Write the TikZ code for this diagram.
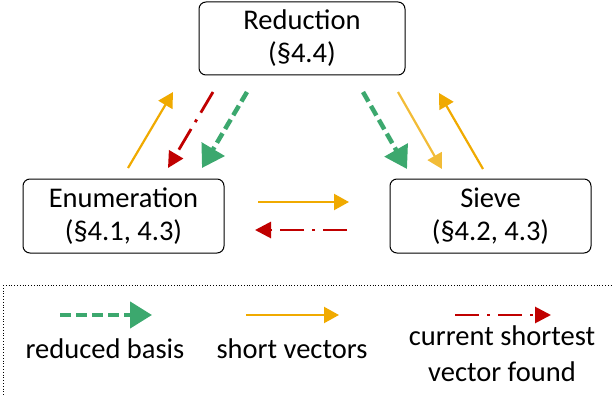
\documentclass[tikz,border=0pt]{standalone}
\usepackage{fontspec}
\setmainfont{Carlito}
\usetikzlibrary{arrows.meta}
\definecolor{myorange}{RGB}{240,170,0}
\definecolor{mylightorange}{RGB}{242,188,55}
\definecolor{mygreen}{RGB}{60,168,110}
\definecolor{myred}{RGB}{192,0,0}
\tikzset{
  box/.style={draw, line width=1pt, rounded corners=7pt, align=center, font=\fontsize{28.5}{33}\selectfont, inner sep=0pt},
  lbl/.style={align=center, font=\fontsize{28.5}{36}\selectfont},
  shortv/.style={myorange, line width=2.2pt, -{Triangle[length=15pt,width=16pt]}},
  basis/.style={mygreen, line width=4.5pt, dash pattern=on 11pt off 5pt, -{Triangle[length=22pt,width=26pt]}},
  curr/.style={myred, line width=2.8pt, dash pattern=on 24pt off 8pt on 3pt off 8pt, -{Triangle[length=16pt,width=16pt]}},
}
\begin{document}
\begin{tikzpicture}[x=1pt,y=-1pt]
\useasboundingbox (0,0) rectangle (613,396);
\begin{scope}
\clip (0,0) rectangle (613,396);
\draw[dotted, line width=0.8pt] (3,285) -- (3,400) (3,285) -- (620,285);
\end{scope}
\node[box, minimum width=206pt, minimum height=73pt] (red) at (302,38.5) {Reduction\\(§4.4)};
\node[box, minimum width=201pt, minimum height=74pt] (enum) at (123.5,216) {Enumeration\\(§4.1, 4.3)};
\node[box, minimum width=201pt, minimum height=74pt] (sieve) at (490.5,216) {Sieve\\(§4.2, 4.3)};
% coordinates
\coordinate (a1) at (128,168); \coordinate (a2) at (173,92);
\coordinate (b1) at (213,92); \coordinate (b2) at (168,168);
\coordinate (c1) at (247,92); \coordinate (c2) at (202,168);
\coordinate (d1) at (363,92); \coordinate (d2) at (407,169);
\coordinate (e1) at (398,92); \coordinate (e2) at (442,169);
\coordinate (f1) at (483,169); \coordinate (f2) at (439,93);
\coordinate (g1) at (258,202); \coordinate (g2) at (349,202);
\coordinate (h1) at (347,230); \coordinate (h2) at (255,230);
\draw[shortv] (a1) -- (a2);
\draw[curr] (b1) -- (b2);
\draw[basis] (c1) -- (c2);
\draw[basis] (d1) -- (d2);
\draw[shortv, mylightorange] (e1) -- (e2);
\draw[shortv] (f1) -- (f2);
\draw[shortv] (g1) -- (g2);
\draw[curr] (h1) -- (h2);
% legend
\coordinate (l1) at (60,315); \coordinate (l2) at (152,315);
\coordinate (m1) at (246,315); \coordinate (m2) at (339,315);
\coordinate (n1) at (455,315); \coordinate (n2) at (551,315);
\draw[basis] (l1) -- (l2);
\draw[shortv] (m1) -- (m2);
\draw[curr] (n1) -- (n2);
\node[lbl] (t1) at (105,349) {reduced basis};
\node[lbl] (t2) at (292,349) {short vectors};
\node[lbl] (t3) at (502,354) {current shortest\\vector found};
\end{tikzpicture}
\end{document}
